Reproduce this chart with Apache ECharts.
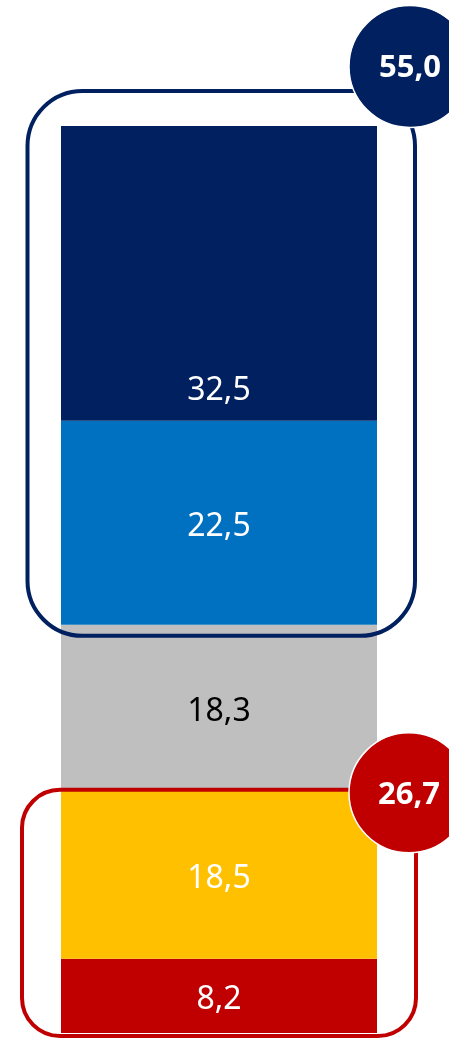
<!DOCTYPE html>
<html>
<head>
<meta charset="utf-8">
<script src="https://cdn.jsdelivr.net/npm/echarts@6/dist/echarts.min.js"></script>
<style>
html,body{margin:0;padding:0;background:#fff;}
#c{width:449px;height:1039px;}
</style>
</head>
<body>
<div id="c"></div>
<script>
// Data (bottom to top)
const categories = [''];
const segNames = ['s1', 's2', 's3', 's4', 's5'];
const segValues = [8.2, 18.5, 18.3, 22.5, 32.5];
const segColors = ['#C00000', '#FFC000', '#BFBFBF', '#0070C0', '#002060'];
const labelColors = ['#FFFFFF', '#FFFFFF', '#000000', '#FFFFFF', '#FFFFFF'];
// Groups outlined: top group = segments 3,4 ; bottom group = segments 0,1
const topGroup = [3, 4];
const bottomGroup = [0, 1];

const fmt = v => v.toFixed(1).replace('.', ',');

const GRID_LEFT = 61, GRID_RIGHT = 72, GRID_TOP = 126, GRID_BOTTOM = 6;

const chart = echarts.init(document.getElementById('c'), null, {renderer: 'canvas'});

const series = segValues.map((v, i) => ({
  name: segNames[i],
  type: 'bar',
  stack: 'total',
  barWidth: '100%',
  data: [v],
  itemStyle: {color: segColors[i]},
  label: {
    show: true,
    position: 'inside',
    offset: i === 4 ? [0, 118] : [0, 4],
    formatter: p => fmt(p.value),
    color: labelColors[i],
    fontFamily: 'Noto Sans',
    fontSize: 32
  },
  emphasis: {disabled: true},
  silent: true,
  z: 2
}));

chart.setOption({
  animation: false,
  grid: {left: GRID_LEFT, right: GRID_RIGHT, top: GRID_TOP, bottom: GRID_BOTTOM},
  xAxis: {type: 'category', data: categories, show: false},
  yAxis: {type: 'value', min: 0, max: 100, show: false},
  series: series
});

function cum(idx) { // cumulative value up to and including segment idx
  let s = 0;
  for (let k = 0; k <= idx; k++) s += segValues[k];
  return s;
}
function yPix(v) { return chart.convertToPixel({gridIndex: 0}, [0, v])[1]; }

const barLeft = GRID_LEFT;
const barRight = 449 - GRID_RIGHT;

// Top group
const tLowV = cum(topGroup[0] - 1);
const tHighV = cum(topGroup[topGroup.length - 1]);
const tSum = topGroup.reduce((a, k) => a + segValues[k], 0);
const tTop = yPix(tHighV) - 35, tBot = yPix(tLowV) + 11;
const tL = barLeft - 33.5, tR = barRight + 38;

// Bottom group
const bLowV = 0;
const bHighV = cum(bottomGroup[bottomGroup.length - 1]);
const bSum = bottomGroup.reduce((a, k) => a + segValues[k], 0);
const bTop = yPix(bHighV) - 1, bBot = yPix(bLowV) + 3;
const bL = barLeft - 39, bR = barRight + 39;

const R = 61;
chart.setOption({
  graphic: [
    {type: 'rect', z: 10, shape: {x: tL, y: tTop, width: tR - tL, height: tBot - tTop, r: 55},
      style: {fill: null, stroke: '#002060', lineWidth: 4}},
    {type: 'rect', z: 10, shape: {x: bL, y: bTop, width: bR - bL, height: bBot - bTop, r: 38},
      style: {fill: null, stroke: '#C00000', lineWidth: 4}},
    {type: 'circle', z: 20, shape: {cx: barRight + 33, cy: tTop - 24.5, r: R},
      style: {fill: '#002060', stroke: '#FFFFFF', lineWidth: 1.5}},
    {type: 'text', z: 21, x: barRight + 33, y: tTop - 23,
      style: {text: fmt(tSum), fill: '#FFFFFF', font: 'bold 31px "Noto Sans"', align: 'center', verticalAlign: 'middle'}},
    {type: 'circle', z: 20, shape: {cx: barRight + 32, cy: bTop + 3, r: 60},
      style: {fill: '#C00000', stroke: '#FFFFFF', lineWidth: 1.5}},
    {type: 'text', z: 21, x: barRight + 32, y: bTop + 5,
      style: {text: fmt(bSum), fill: '#FFFFFF', font: 'bold 31px "Noto Sans"', align: 'center', verticalAlign: 'middle'}}
  ]
});
</script>
</body>
</html>
